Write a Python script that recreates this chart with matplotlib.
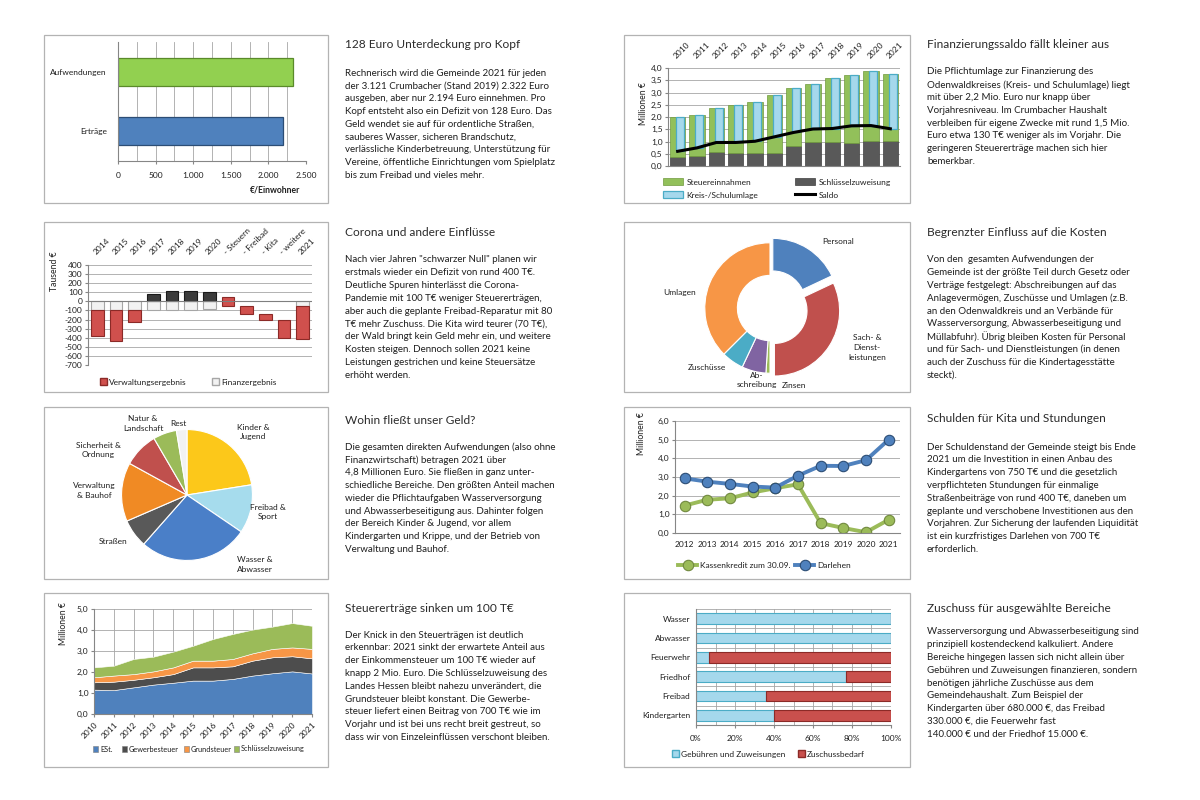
import numpy as np
import matplotlib
matplotlib.use('Agg')
import matplotlib.pyplot as plt
from matplotlib.patches import Rectangle, Patch
from matplotlib.lines import Line2D
from matplotlib.ticker import FuncFormatter, MultipleLocator

plt.rcParams['font.family'] = ['Lato', 'DejaVu Sans']
plt.rcParams['axes.unicode_minus'] = False

# ---------------- Daten ----------------
# Pro-Kopf-Werte 2021 (Euro je Einwohner)
kopf_kat = ['Erträge', 'Aufwendungen']
kopf_wert = [2194, 2322]

# Finanzierungssaldo (Mio. Euro)
jahre_saldo = ['2010', '2011', '2012', '2013', '2014', '2015', '2016', '2017', '2018', '2019', '2020', '2021']
schluessel = [0.37, 0.41, 0.58, 0.53, 0.55, 0.55, 0.82, 0.96, 0.96, 0.95, 1.01, 1.01]
steuer = [1.63, 1.69, 1.78, 1.94, 2.05, 2.33, 2.36, 2.40, 2.63, 2.78, 2.85, 2.74]
saldo = [0.60, 0.74, 0.96, 0.96, 1.01, 1.19, 1.37, 1.51, 1.53, 1.64, 1.65, 1.52]
umlage = [1.40, 1.36, 1.40, 1.51, 1.59, 1.69, 1.81, 1.85, 2.06, 2.09, 2.21, 2.23]

# Corona und andere Einfluesse (Tausend Euro)
jahre_erg = ['2014', '2015', '2016', '2017', '2018', '2019', '2020']
finanz_erg = [-100, -100, -100, -90, -90, -90, -85]
verw_erg = [-285, -335, -127, 85, 115, 115, 105]
schritte = ['- Steuern', '- Freibad', '- Kita', '- weitere']
schritt_von = [45, -55, -135, -205]
schritt_delta = [-100, -80, -70, -200]
plan_jahr = '2021'
plan_finanz = -55
plan_verw = -355

# Aufwandsarten (Anteile in %)
kosten_kat = ['Personal', 'Sach- &\nDienst-\nleistungen', 'Zinsen', 'Ab-\nschreibung', 'Zuschüsse', 'Umlagen']
kosten_anteil = [18, 32, 1, 6, 5.5, 37.5]

# Bereiche (Anteile in %)
bereich_kat = ['Kinder &\nJugend', 'Freibad &\nSport', 'Wasser &\nAbwasser', 'Straßen',
               'Verwaltung\n& Bauhof', 'Sicherheit &\nOrdnung', 'Natur &\nLandschaft', 'Rest']
bereich_anteil = [22.5, 12, 27, 7, 14.5, 8.6, 5.8, 2.6]

# Schulden (Mio. Euro)
jahre_schulden = ['2012', '2013', '2014', '2015', '2016', '2017', '2018', '2019', '2020', '2021']
kassenkredit = [1.47, 1.78, 1.86, 2.17, 2.40, 2.61, 0.53, 0.27, 0.04, 0.71]
darlehen = [2.93, 2.75, 2.63, 2.49, 2.43, 3.07, 3.60, 3.59, 3.90, 5.00]

# Steuerertraege (Mio. Euro)
jahre_steuer = ['2010', '2011', '2012', '2013', '2014', '2015', '2016', '2017', '2018', '2019', '2020', '2021']
est = [1.16, 1.14, 1.27, 1.40, 1.49, 1.59, 1.59, 1.67, 1.83, 1.94, 2.03, 1.93]
gewerbe = [0.35, 0.40, 0.36, 0.35, 0.41, 0.63, 0.63, 0.60, 0.71, 0.76, 0.72, 0.72]
grund = [0.24, 0.29, 0.27, 0.28, 0.32, 0.32, 0.32, 0.35, 0.35, 0.40, 0.42, 0.45]
schluessel_zuw = [0.47, 0.47, 0.72, 0.70, 0.75, 0.71, 1.03, 1.19, 1.13, 1.06, 1.16, 1.10]

# Zuschuss fuer Bereiche (%)
zuschuss_kat = ['Wasser', 'Abwasser', 'Feuerwehr', 'Friedhof', 'Freibad', 'Kindergarten']
gebuehren_anteil = [100, 100, 6.5, 77, 36, 40]
zuschuss_anteil = [0, 0, 93.5, 23, 64, 60]

# Texte
texte = [
    (345, 45, 73, '128 Euro Unterdeckung pro Kopf', [
        'Rechnerisch wird die Gemeinde 2021 für jeden',
        'der 3.121 Crumbacher (Stand 2019) 2.322 Euro',
        'ausgeben, aber nur 2.194 Euro einnehmen. Pro',
        'Kopf entsteht also ein Defizit von 128 Euro. Das',
        'Geld wendet sie auf für ordentliche Straßen,',
        'sauberes Wasser, sicheren Brandschutz,',
        'verlässliche Kinderbetreuung, Unterstützung für',
        'Vereine, öffentliche Einrichtungen vom Spielplatz',
        'bis zum Freibad und vieles mehr.']),
    (345, 232, 260, 'Corona und andere Einflüsse', [
        'Nach vier Jahren "schwarzer Null" planen wir',
        'erstmals wieder ein Defizit von rund 400 T€.',
        'Deutliche Spuren hinterlässt die Corona-',
        'Pandemie mit 100 T€ weniger Steuererträgen,',
        'aber auch die geplante Freibad-Reparatur mit 80',
        'T€ mehr Zuschuss. Die Kita wird teurer (70 T€),',
        'der Wald bringt kein Geld mehr ein, und weitere',
        'Kosten steigen. Dennoch sollen 2021 keine',
        'Leistungen gestrichen und keine Steuersätze',
        'erhöht werden.']),
    (345, 421, 447, 'Wohin fließt unser Geld?', [
        'Die gesamten direkten Aufwendungen (also ohne',
        'Finanzwirtschaft) betragen 2021 über',
        '4,8 Millionen Euro. Sie fließen in ganz unter-',
        'schiedliche Bereiche. Den größten Anteil machen',
        'wieder die Pflichtaufgaben Wasserversorgung',
        'und Abwasserbeseitigung aus. Dahinter folgen',
        'der Bereich Kinder & Jugend, vor allem',
        'Kindergarten und Krippe, und der Betrieb von',
        'Verwaltung und Bauhof.']),
    (345, 609, 635, 'Steuererträge sinken um 100 T€', [
        'Der Knick in den Steuerträgen ist deutlich',
        'erkennbar: 2021 sinkt der erwartete Anteil aus',
        'der Einkommensteuer um 100 T€ wieder auf',
        'knapp 2 Mio. Euro. Die Schlüsselzuweisung des',
        'Landes Hessen bleibt nahezu unverändert, die',
        'Grundsteuer bleibt konstant. Die Gewerbe-',
        'steuer liefert einen Beitrag von 700 T€ wie im',
        'Vorjahr und ist bei uns recht breit gestreut, so',
        'dass wir von Einzeleinflüssen verschont bleiben.']),
    (927, 45, 72, 'Finanzierungssaldo fällt kleiner aus', [
        'Die Pflichtumlage zur Finanzierung des',
        'Odenwaldkreises (Kreis- und Schulumlage) liegt',
        'mit über 2,2 Mio. Euro nur knapp über',
        'Vorjahresniveau. Im Crumbacher Haushalt',
        'verbleiben für eigene Zwecke mit rund 1,5 Mio.',
        'Euro etwa 130 T€ weniger als im Vorjahr. Die',
        'geringeren Steuererträge machen sich hier',
        'bemerkbar.']),
    (927, 232, 260, 'Begrenzter Einfluss auf die Kosten', [
        'Von den  gesamten Aufwendungen der',
        'Gemeinde ist der größte Teil durch Gesetz oder',
        'Verträge festgelegt: Abschreibungen auf das',
        'Anlagevermögen, Zuschüsse und Umlagen (z.B.',
        'an den Odenwaldkreis und an Verbände für',
        'Wasserversorgung, Abwasserbeseitigung und',
        'Müllabfuhr). Übrig bleiben Kosten für Personal',
        'und für Sach- und Dienstleistungen (in denen',
        'auch der Zuschuss für die Kindertagesstätte',
        'steckt).']),
    (927, 418, 447, 'Schulden für Kita und Stundungen', [
        'Der Schuldenstand der Gemeinde steigt bis Ende',
        '2021 um die Investition in einen Anbau des',
        'Kindergartens von 750 T€ und die gesetzlich',
        'verpflichteten Stundungen für einmalige',
        'Straßenbeiträge von rund 400 T€, daneben um',
        'geplante und verschobene Investitionen aus den',
        'Vorjahren. Zur Sicherung der laufenden Liquidität',
        'ist ein kurzfristiges Darlehen von 700 T€',
        'erforderlich.']),
    (927, 608, 632, 'Zuschuss für ausgewählte Bereiche', [
        'Wasserversorgung und Abwasserbeseitigung sind',
        'prinzipiell kostendeckend kalkuliert. Andere',
        'Bereiche hingegen lassen sich nicht allein über',
        'Gebühren und Zuweisungen finanzieren, sondern',
        'benötigen jährliche Zuschüsse aus dem',
        'Gemeindehaushalt. Zum Beispiel der',
        'Kindergarten über 680.000 €, das Freibad',
        '330.000 €, die Feuerwehr fast',
        '140.000 € und der Friedhof 15.000 €.']),
]

# ---------------- Layout-Helfer ----------------
W, H = 1200, 800


def rect(x0, y0, x1, y1):
    return [x0 / W, 1 - y1 / H, (x1 - x0) / W, (y1 - y0) / H]


def fx(x):
    return x / W


def fy(y):
    return 1 - y / H


GRID = '#a6a6a6'
AXC = '#868686'
TXT = '#1f1f1f'
FS = 6.0

fig = plt.figure(figsize=(12, 8), dpi=100)
fig.patch.set_facecolor('white')


def style(ax):
    for s in ['top', 'right']:
        ax.spines[s].set_visible(False)
    for s in ['left', 'bottom']:
        ax.spines[s].set_color(AXC)
        ax.spines[s].set_linewidth(0.8)
    ax.tick_params(labelsize=FS, length=2, color=AXC, pad=2, labelcolor=TXT)
    ax.set_axisbelow(True)
    ax.set_facecolor('none')


def legende(handle, label, x, y, hl=0.9, hh=0.9, fs=FS, pad=0.4):
    fig.legend([handle], [label], loc='center left', bbox_to_anchor=(fx(x), fy(y)),
               frameon=False, fontsize=fs, borderpad=0, borderaxespad=0,
               handlelength=hl, handleheight=hh, handletextpad=pad, labelcolor=TXT)


def ylabel(text, x, y):
    fig.text(fx(x), fy(y), text, rotation=90, fontsize=6.2, color=TXT, ha='center', va='center')


def de1(v, pos=None):
    return '{:.1f}'.format(v).replace('.', ',')


# Rahmen
for (x0, y0, x1, y1) in [(44, 35, 328, 203), (44, 222, 328, 392), (44, 407, 328, 579), (44, 593, 328, 767),
                         (624, 35, 910, 203), (624, 222, 910, 392), (624, 407, 910, 579), (624, 593, 910, 767)]:
    fig.add_artist(Rectangle((fx(x0), fy(y1)), (x1 - x0) / W, (y1 - y0) / H, transform=fig.transFigure,
                             facecolor='none', edgecolor='#b3b3b3', linewidth=0.9))

# Texte
for (x, yt, yb, titel, zeilen) in texte:
    fig.text(fx(x), fy(yt), titel, fontsize=8.6, color='#2b2b2b', va='center')
    for i, z in enumerate(zeilen):
        fig.text(fx(x), fy(yb + i * 12.8), z, fontsize=7.0, color=TXT, va='center')

# ---------------- 1) Pro Kopf ----------------
ax1 = fig.add_axes(rect(118, 42, 306, 161))
style(ax1)
y1 = np.arange(len(kopf_kat))
ax1.barh(y1, kopf_wert, height=0.47, color=['#4f81bd', '#92d050'],
         edgecolor=['#2c4d75', '#5a8a2a'], linewidth=0.9)
ax1.set_xlim(0, 2500)
ax1.set_ylim(-0.5, 1.5)
ax1.xaxis.set_major_locator(MultipleLocator(500))
ax1.xaxis.set_minor_locator(MultipleLocator(250))
ax1.xaxis.set_major_formatter(FuncFormatter(lambda v, p: '{:,.0f}'.format(v).replace(',', '.')))
ax1.grid(axis='x', which='both', color=GRID, linewidth=0.6)
ax1.set_yticks(y1)
ax1.set_yticklabels(kopf_kat)
ax1.tick_params(axis='y', length=0, pad=8)
ax1.tick_params(axis='x', which='minor', length=0)
ax1.tick_params(axis='x', pad=6)
fig.text(fx(275), fy(190), '€/Einwohner', fontsize=6.2, fontweight='bold', color=TXT, ha='center', va='center')

# ---------------- 2) Finanzierungssaldo ----------------
ax2 = fig.add_axes(rect(668, 68, 900, 166))
style(ax2)
x2 = np.arange(len(jahre_saldo))
b_schl = ax2.bar(x2, schluessel, width=0.78, color='#595959', edgecolor='#3f3f3f', linewidth=0.5)
b_st = ax2.bar(x2, steuer, width=0.78, bottom=schluessel, color='#92c05a', edgecolor='#6f9a3c', linewidth=0.5)
b_um = ax2.bar(x2 + 0.12, umlage, width=0.4, bottom=saldo, color='#a5d8ec', edgecolor='#4bacc6', linewidth=0.9)
l_saldo, = ax2.plot(x2, saldo, color='black', linewidth=2.2)
ax2.set_xlim(-0.5, len(x2) - 0.5)
ax2.set_ylim(0, 4)
ax2.yaxis.set_major_locator(MultipleLocator(0.5))
ax2.yaxis.set_major_formatter(FuncFormatter(de1))
ax2.grid(axis='y', color=GRID, linewidth=0.6)
ax2.set_xticks(x2)
ax2.xaxis.tick_top()
ax2.set_xticklabels(jahre_saldo, rotation=45, ha='left', va='bottom', rotation_mode='anchor')
ax2.tick_params(axis='x', length=0, pad=6)
ylabel('Millionen €', 643, 104)
legende(b_st[0], 'Steuereinnahmen', 663, 182, 2.4, 0.9)
legende(b_schl[0], 'Schlüsselzuweisung', 795, 182, 2.4, 0.9)
legende(b_um[0], 'Kreis-/Schulumlage', 663, 195, 2.4, 0.9)
legende(Line2D([], [], color='black', linewidth=2.2), 'Saldo', 795, 195, 2.4, 0.9)

# ---------------- 3) Corona ----------------
ax3 = fig.add_axes(rect(88, 265, 312, 365))
style(ax3)
kat3 = jahre_erg + schritte + [plan_jahr]
x3 = np.arange(len(kat3))
bw = 0.68
rot, rot_e = '#d0504d', '#8b2a27'
for i in range(len(jahre_erg)):
    ax3.bar(x3[i], finanz_erg[i], width=bw, color='#f2f2f2', edgecolor='#a6a6a6', linewidth=0.8)
    if verw_erg[i] < 0:
        ax3.bar(x3[i], verw_erg[i], width=bw, bottom=finanz_erg[i], color=rot, edgecolor=rot_e, linewidth=0.8)
    else:
        ax3.bar(x3[i], verw_erg[i], width=bw, color='#3b3b3b', edgecolor='#1a1a1a', linewidth=0.8)
for j in range(len(schritte)):
    ax3.bar(x3[len(jahre_erg) + j], schritt_delta[j], width=bw, bottom=schritt_von[j],
            color=rot, edgecolor=rot_e, linewidth=0.8)
ax3.bar(x3[-1], plan_finanz, width=bw, color='#f2f2f2', edgecolor='#a6a6a6', linewidth=0.8)
ax3.bar(x3[-1], plan_verw, width=bw, bottom=plan_finanz, color=rot, edgecolor=rot_e, linewidth=0.8)
ax3.axhline(0, color='#7f7f7f', linewidth=0.8)
ax3.set_xlim(-0.5, len(x3) - 0.5)
ax3.set_ylim(-700, 400)
ax3.yaxis.set_major_locator(MultipleLocator(100))
ax3.grid(axis='y', color=GRID, linewidth=0.6)
ax3.spines['bottom'].set_visible(False)
ax3.set_xticks(x3)
ax3.xaxis.tick_top()
ax3.set_xticklabels(kat3, rotation=45, ha='left', va='bottom', rotation_mode='anchor')
ax3.tick_params(axis='x', length=0, pad=7)
ylabel('Tausend €', 55, 271)
legende(Patch(facecolor=rot, edgecolor=rot_e), 'Verwaltungsergebnis', 100, 382, 0.8, 0.8, FS, 0.3)
legende(Patch(facecolor='#f2f2f2', edgecolor='#a6a6a6'), 'Finanzergebnis', 212, 382, 0.8, 0.8, FS, 0.3)

# ---------------- 4) Donut Kosten ----------------
ax4 = fig.add_axes(rect(695, 233, 845, 383))
ax4.pie(kosten_anteil, startangle=90, counterclock=False, radius=1,
        colors=['#4f81bd', '#c0504d', '#9bbb59', '#8064a2', '#4bacc6', '#f79646'],
        explode=[0.08, 0.08, 0, 0, 0, 0],
        wedgeprops=dict(width=0.5, edgecolor='white', linewidth=0.8))
ax4.set_xlim(-1.15, 1.15)
ax4.set_ylim(-1.15, 1.15)
ax4.set_aspect('equal')
for lab, (x, y) in zip(kosten_kat, [(838, 242), (867, 347), (794, 386), (757, 380), (707, 368), (680, 293)]):
    fig.text(fx(x), fy(y), lab, fontsize=FS, color=TXT, ha='center', va='center', linespacing=1.5)

# ---------------- 5) Torte Bereiche ----------------
ax5 = fig.add_axes(rect(187 - 72, 495 - 72, 187 + 72, 495 + 72))
ax5.pie(bereich_anteil, startangle=90, counterclock=False, radius=1,
        colors=['#fcc81a', '#a6dced', '#4a7fc8', '#595959', '#f08a24', '#c0504d', '#9bbb59', '#f2f2f2'],
        wedgeprops=dict(edgecolor='white', linewidth=0.8))
ax5.set_xlim(-1.1, 1.1)
ax5.set_ylim(-1.1, 1.1)
ax5.set_aspect('equal')
for lab, (x, y) in zip(bereich_kat, [(253, 432), (268, 512), (255, 564), (113, 541), (94, 490),
                                     (98, 450), (143, 423), (178, 423)]):
    fig.text(fx(x), fy(y), lab, fontsize=FS, color=TXT, ha='center', va='center', linespacing=1.5)

# ---------------- 6) Schulden ----------------
ax6 = fig.add_axes(rect(675, 421, 900, 533))
style(ax6)
x6 = np.arange(len(jahre_schulden))
l_kk, = ax6.plot(x6, kassenkredit, color='#9bbb59', linewidth=2.8, marker='o', markersize=7.5,
                 markerfacecolor='#9bbb59', markeredgecolor='#71893f', markeredgewidth=0.8)
l_dl, = ax6.plot(x6, darlehen, color='#4f81bd', linewidth=2.8, marker='o', markersize=7.5,
                 markerfacecolor='#4f81bd', markeredgecolor='#2c4d75', markeredgewidth=0.8)
ax6.set_xlim(-0.42, len(x6) - 0.5)
ax6.set_ylim(0, 6)
ax6.yaxis.set_major_locator(MultipleLocator(1))
ax6.yaxis.set_major_formatter(FuncFormatter(de1))
ax6.grid(axis='y', color=GRID, linewidth=0.6)
ax6.set_xticks(x6)
ax6.set_xticklabels(jahre_schulden)
ax6.tick_params(axis='x', length=0, pad=6)
ylabel('Millionen €', 642, 434)
legende(l_kk, 'Kassenkredit zum 30.09.', 678, 565, 2.3, 0.9)
legende(l_dl, 'Darlehen', 795, 565, 2.3, 0.9)

# ---------------- 7) Steuerertraege ----------------
ax7 = fig.add_axes(rect(94, 609, 312, 714))
style(ax7)
x7 = np.arange(len(jahre_steuer))
farben7 = ['#4f81bd', '#4d4d4d', '#f79646', '#9bbb59']
namen7 = ['ESt.', 'Gewerbesteuer', 'Grundsteuer', 'Schlüsselzuweisung']
ax7.stackplot(x7, est, gewerbe, grund, schluessel_zuw, colors=farben7,
              edgecolor='white', linewidth=0.4)
ax7.set_xlim(0, len(x7) - 1)
ax7.set_ylim(0, 5)
ax7.yaxis.set_major_locator(MultipleLocator(1))
ax7.yaxis.set_major_formatter(FuncFormatter(de1))
ax7.set_xticks(x7)
ax7.set_xticklabels(jahre_steuer, rotation=45, ha='right', va='top', rotation_mode='anchor')
ax7.grid(axis='both', color=GRID, linewidth=0.6)
ax7.tick_params(axis='x', pad=3)
ylabel('Millionen €', 63, 624)
for name, farbe, x in zip(namen7, farben7, [93, 122, 184, 234]):
    legende(Patch(facecolor=farbe, edgecolor='#7f7f7f', linewidth=0.4), name, x, 749, 0.7, 0.8, 5.3, 0.25)

# ---------------- 8) Zuschussbedarf ----------------
ax8 = fig.add_axes(rect(696, 609, 891, 725))
style(ax8)
y8 = np.arange(len(zuschuss_kat))[::-1]
ax8.barh(y8, gebuehren_anteil, height=0.56, color='#a5d8ec', edgecolor='#4bacc6', linewidth=0.8)
ax8.barh(y8, zuschuss_anteil, height=0.56, left=gebuehren_anteil, color='#c9504d',
         edgecolor='#8b2a27', linewidth=0.8)
ax8.set_xlim(0, 100)
ax8.set_ylim(-0.5, len(zuschuss_kat) - 0.5)
ax8.xaxis.set_major_locator(MultipleLocator(20))
ax8.xaxis.set_minor_locator(MultipleLocator(10))
ax8.xaxis.set_major_formatter(FuncFormatter(lambda v, p: '{:.0f}%'.format(v)))
ax8.set_yticks(y8)
ax8.set_yticklabels(zuschuss_kat)
ax8.set_yticks(np.arange(len(zuschuss_kat)) + 0.5, minor=True)
ax8.grid(axis='x', which='both', color=GRID, linewidth=0.6)
ax8.grid(axis='y', which='minor', color=GRID, linewidth=0.6)
ax8.tick_params(axis='y', which='both', length=0, pad=4)
ax8.tick_params(axis='x', which='minor', length=0)
ax8.tick_params(axis='x', pad=5)
legende(Patch(facecolor='#a5d8ec', edgecolor='#4bacc6'), 'Gebühren und Zuweisungen', 672, 754, 0.8, 0.8, FS, 0.3)
legende(Patch(facecolor='#c9504d', edgecolor='#8b2a27'), 'Zuschussbedarf', 798, 754, 0.8, 0.8, FS, 0.3)

fig.savefig('out.png', dpi=100)
